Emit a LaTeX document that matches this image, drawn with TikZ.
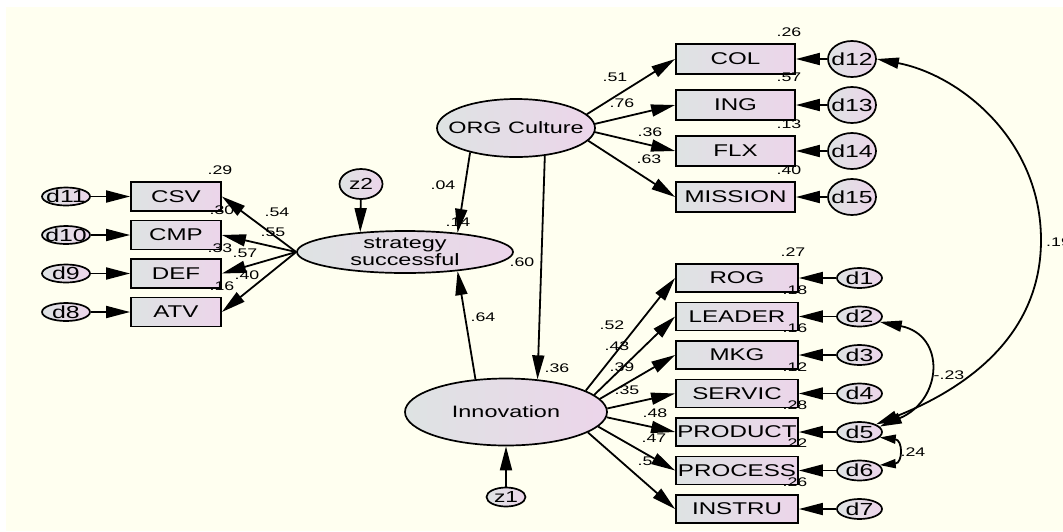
\documentclass[tikz,border=0pt]{standalone}
\usepackage{fontspec}
\setmainfont{Liberation Sans}[FakeStretch=1.42]
\usetikzlibrary{positioning, arrows.meta, shapes.geometric}

\definecolor{canvas}{RGB}{255,255,240}
\definecolor{shadeL}{RGB}{222,227,227}
\definecolor{shadeR}{RGB}{236,213,234}

\begin{document}
\begin{tikzpicture}[
    x=1pt, y=-1pt,
    obs/.style={rectangle, draw=black, line width=1.8pt, left color=shadeL, right color=shadeR, inner sep=0pt, font=\fontsize{17}{19}\selectfont},
    latent/.style={ellipse, draw=black, line width=1.7pt, left color=shadeL, right color=shadeR, inner sep=-18pt, align=center, font=\fontsize{16.5}{17}\selectfont},
    err/.style={ellipse, draw=black, line width=1.7pt, left color=shadeL, right color=shadeR, inner sep=-12pt, font=\fontsize{17.5}{19}\selectfont},
    coef/.style={inner sep=0pt, font=\fontsize{12.5}{13}\selectfont},
    arrow/.style={-{Triangle[length=24pt, width=12pt]}, line width=1.8pt},
    covar/.style={{Triangle[length=22pt, width=11pt]}-{Triangle[length=22pt, width=11pt]}, line width=1.8pt},
    smallcovar/.style={{Triangle[length=16pt, width=9pt]}-{Triangle[length=16pt, width=9pt]}, line width=1.8pt}
]

    % Canvas
    \fill[white] (0,0) rectangle (1063,531);
    \fill[canvas] (6,7) rectangle (1063,531);
    \useasboundingbox (0,0) rectangle (1063,531);

    % Latent variables
    \node[latent, minimum width=158pt, minimum height=58pt] (org) at (516,128) {ORG Culture};
    \node[latent, minimum width=216pt, minimum height=42pt] (strat) at (405,252) {strategy\\successful};
    \node[latent, minimum width=202pt, minimum height=67pt] (innov) at (506,412) {Innovation};
    \node[err, minimum width=43pt, minimum height=30pt, font=\fontsize{16}{17}\selectfont] (z2) at (361,184) {z2};
    \node[err, minimum width=39pt, minimum height=19pt, font=\fontsize{16}{17}\selectfont] (z1) at (506,497) {z1};

    % Strategy indicators
    \foreach \n [count=\i] in {CSV,CMP,DEF,ATV} {
        \node[obs, minimum width=90pt, minimum height=29pt] (\n) at (176,{196.5+38.5*(\i-1)}) {\n};
    }
    \foreach \e/\n [count=\i] in {d11/CSV,d10/CMP,d9/DEF,d8/ATV} {
        \node[err, minimum width=48pt, minimum height=18pt] (\e) at (66,{196.5+38.5*(\i-1)}) {\e};
        \draw[arrow] (\e) -- (\n);
    }

    % Culture indicators
    \foreach \n/\e [count=\i] in {COL/d12,ING/d13,FLX/d14,MISSION/d15} {
        \node[obs, minimum width=119pt, minimum height=30pt] (\n) at (735.5,{59+46*(\i-1)}) {\n};
        \node[err, minimum width=48pt, minimum height=36pt] (\e) at (852,{59+46*(\i-1)}) {\e};
        \draw[arrow] (\e) -- (\n);
    }

    % Innovation indicators
    \foreach \n/\e [count=\i] in {ROG/d1,LEADER/d2,MKG/d3,SERVIC/d4,PRODUCT/d5,PROCESS/d6,INSTRU/d7} {
        \node[obs, minimum width=122pt, minimum height=28pt] (\n) at (737,{278+38.5*(\i-1)}) {\n};
        \node[err, minimum width=45pt, minimum height=20pt] (\e) at (859.5,{278+38.5*(\i-1)}) {\e};
        \draw[arrow] (\e) -- (\n);
    }

    % Squared multiple correlations
    \foreach \val/\x/\y [count=\i] in {.29/220/170,.30/222/210,.33/220/248,.16/222/286,
        .26/789/32,.57/789/77,.13/789/124,.40/789/170,
        .27/793/252,.18/795/290,.16/795/328,.12/795/367,.28/795/405,.22/795/443,.26/795/482,
        .14/458/222,.36/557/368} {
        \node[coef] (rsq\i) at (\x,\y) {\val};
    }

    % Path coefficients
    \foreach \val/\x/\y [count=\i] in {.54/277/212,.55/273/232,.57/245/253,.40/247/275,
        .51/615/77,.76/622/103,.36/650/132,.63/649/159,
        .52/612/325,.43/617/346,.39/622/367,.35/627/390,.48/655/413,.47/654/438,.5/645/461,
        .04/443/185,.60/522/262,.64/483/317} {
        \node[coef] (pc\i) at (\x,\y) {\val};
    }

    % Covariance labels
    \node[coef, anchor=west] (cov1) at (1046,242) {.19};
    \node[coef] (cov2) at (949,375) {-.23};
    \node[coef] (cov3) at (913,452) {.24};

    % Loadings
    \foreach \n in {CSV,CMP,DEF,ATV} {
        \draw[arrow] (strat.west) -- (\n.east);
    }
    \foreach \n/\a in {COL/11.8,ING/3.6,FLX/-3.6,MISSION/-10.7} {
        \draw[arrow] (org.\a) -- (\n.west);
    }
    \foreach \n/\a in {ROG/15.6,LEADER/11.8,MKG/8.5,SERVIC/2.8,PRODUCT/-3.4,PROCESS/-9.3,INSTRU/-14} {
        \draw[arrow] (innov.\a) -- (\n.west);
    }

    % Structural paths
    \draw[arrow] (org.-152) -- (strat.20);
    \draw[arrow] (org.-44) -- (innov.46);
    \draw[arrow] (innov.133) -- (strat.-20);
    \draw[arrow] (z2) -- (strat.156);
    \draw[arrow] (z1) -- (innov.south);

    % Error covariances
    \draw[covar] (d12.east) .. controls (960,75) and (1041,140) .. (1041,240)
        .. controls (1041,330) and (975,385) .. (d5.25);
    \draw[covar] (d2.-15) .. controls (946,335) and (943,400) .. (d5.15);
    \draw[smallcovar] (d5.-15) .. controls (903,440) and (903,463) .. (d6.15);

\end{tikzpicture}
\end{document}
